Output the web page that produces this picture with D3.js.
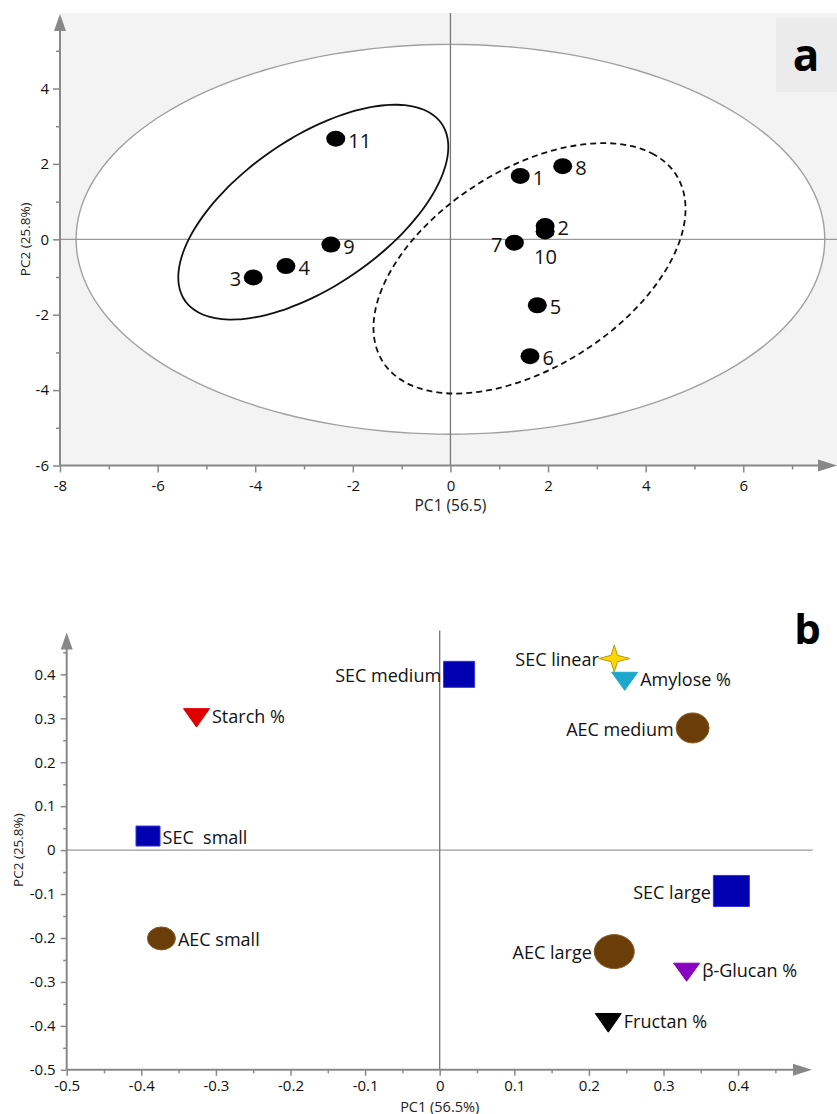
<!DOCTYPE html>
<html>
<head>
<meta charset="utf-8">
<script src="https://cdn.jsdelivr.net/npm/d3@7"></script>
<style>
  body { margin: 0; background: #fff; }
  text { font-family: "Open Sans", sans-serif; }
</style>
</head>
<body>
<script>
// ---- panel a : scores ----
const scoreIds = ["1", "2", "3", "4", "5", "6", "7", "8", "9", "10", "11"];
const scorePC1 = [1.43, 1.94, -4.04, -3.37, 1.78, 1.63, 1.31, 2.30, -2.45, 1.94, -2.35];
const scorePC2 = [1.68, 0.35, -1.01, -0.71, -1.75, -3.10, -0.09, 1.94, -0.14, 0.21, 2.67];
const pc1TicksA = [-8, -6, -4, -2, 0, 2, 4, 6];
const pc1MinorA = [-7, -5, -3, -1, 1, 3, 5, 7];
const pc2TicksA = [-6, -4, -2, 0, 2, 4];
const pc2MinorA = [-5, -3, -1, 1, 3, 5];
// group ellipses (centre, semi axes, rotation in degrees), PC units
const groupCentres = [[-2.81, 0.72], [1.62, -0.77]];
const groupRadii = [[3.56, 1.76], [3.96, 2.36]];
const groupAngles = [46.4, 47.3];
const hotellingRadii = [7.67, 5.17];

// ---- panel b : loadings ----
const loadNames = ["SEC medium", "SEC linear", "Amylose %", "Starch %", "AEC medium", "SEC  small",
                   "SEC large", "AEC small", "AEC large", "β-Glucan %", "Fructan %"];
const loadPC1 = [0.026, 0.234, 0.248, -0.326, 0.339, -0.391, 0.391, -0.373, 0.234, 0.331, 0.226];
const loadPC2 = [0.400, 0.436, 0.391, 0.308, 0.278, 0.032, -0.093, -0.201, -0.231, -0.271, -0.386];
const pc1TicksB = [-0.5, -0.4, -0.3, -0.2, -0.1, 0, 0.1, 0.2, 0.3, 0.4];
const pc1MinorB = [-0.45, -0.35, -0.25, -0.15, -0.05, 0.05, 0.15, 0.25, 0.35, 0.45];
const pc2TicksB = [-0.5, -0.4, -0.3, -0.2, -0.1, 0, 0.1, 0.2, 0.3, 0.4];
const pc2MinorB = [-0.45, -0.35, -0.25, -0.15, -0.05, 0.05, 0.15, 0.25, 0.35, 0.45];

// where the number sits next to each score dot
const scoreSide = {"3": "left", "7": "left", "10": "below"};

// marker look for each loading
const markerStyle = {
  "SEC medium": {shape: "square", w: 31, h: 26, fill: "#0000b0", stroke: "#3333dd", side: "left"},
  "SEC linear": {shape: "star", w: 31, h: 27, fill: "#ffd700", stroke: "#b89a00", side: "left"},
  "Amylose %":  {shape: "tri", w: 26, h: 18, fill: "#1ba8cc", stroke: "#1ba8cc", side: "right"},
  "Starch %":   {shape: "tri", w: 26, h: 18.4, fill: "#e00000", stroke: "#e00000", side: "right"},
  "AEC medium": {shape: "circle", w: 33, h: 30, fill: "#6b3d08", stroke: "#8a5a22", side: "left"},
  "SEC  small": {shape: "square", w: 24, h: 20, fill: "#0000b0", stroke: "#3333dd", side: "right"},
  "SEC large":  {shape: "square", w: 36, h: 31, fill: "#0000b0", stroke: "#3333dd", side: "left"},
  "AEC small":  {shape: "circle", w: 28, h: 23, fill: "#6b3d08", stroke: "#8a5a22", side: "right"},
  "AEC large":  {shape: "circle", w: 40, h: 34, fill: "#6b3d08", stroke: "#8a5a22", side: "left"},
  "β-Glucan %": {shape: "tri", w: 26, h: 18, fill: "#8800c0", stroke: "#8800c0", side: "right"},
  "Fructan %":  {shape: "tri", w: 26, h: 18.7, fill: "#000000", stroke: "#000000", side: "right"}
};

const W = 837, H = 1114;
const axisColor = "#888";
const svg = d3.select("body").append("svg")
  .attr("width", W).attr("height", H);

const fmt = d => String(+d.toFixed(2));

function ellipsePath(cx, cy, rx, ry, angleDeg, x, y) {
  const a = angleDeg * Math.PI / 180;
  const pts = d3.range(0, 360, 4).map(t => {
    const r = t * Math.PI / 180;
    const ux = rx * Math.cos(r), uy = ry * Math.sin(r);
    return [x(cx + ux * Math.cos(a) - uy * Math.sin(a)), y(cy + ux * Math.sin(a) + uy * Math.cos(a))];
  });
  return d3.line().curve(d3.curveCardinalClosed)(pts);
}

function drawAxes(g, x, y, o) {
  // minor ticks
  g.append("g").attr("transform", `translate(0,${y(o.yMin)})`)
    .call(d3.axisBottom(x).tickValues(o.xMinor).tickSize(o.minorLen).tickFormat(""))
    .call(s => s.select(".domain").remove());
  g.append("g").attr("transform", `translate(${x(o.xMin)},0)`)
    .call(d3.axisLeft(y).tickValues(o.yMinor).tickSize(o.minorLen).tickFormat(""))
    .call(s => s.select(".domain").remove());
  // major ticks
  const gx = g.append("g").attr("transform", `translate(0,${y(o.yMin)})`)
    .call(d3.axisBottom(x).tickValues(o.xTicks).tickSize(o.majorLen).tickPadding(o.xPad).tickFormat(fmt));
  const gy = g.append("g").attr("transform", `translate(${x(o.xMin)},0)`)
    .call(d3.axisLeft(y).tickValues(o.yTicks).tickSize(o.majorLen).tickPadding(o.yPad).tickFormat(fmt));
  [gx, gy].forEach(s => {
    s.attr("font-size", 15).attr("font-family", "'Open Sans', sans-serif");
    s.select(".domain").remove();
    s.selectAll("text").attr("fill", "#111");
  });
  g.selectAll(".tick line").attr("stroke", axisColor).attr("stroke-width", 1.5);

  // axis lines with arrow heads
  const x0 = x(o.xMin), y0 = y(o.yMin);
  g.append("line").attr("x1", x0).attr("x2", o.xEnd - 14).attr("y1", y0).attr("y2", y0)
    .attr("stroke", axisColor).attr("stroke-width", 2);
  g.append("line").attr("x1", x0).attr("x2", x0).attr("y1", y0).attr("y2", o.yEnd + 14)
    .attr("stroke", axisColor).attr("stroke-width", 2);
  g.append("path").attr("d", `M${o.xEnd},${y0} L${o.xEnd - 19},${y0 - 6} L${o.xEnd - 19},${y0 + 6} Z`)
    .attr("fill", axisColor);
  g.append("path").attr("d", `M${x0},${o.yEnd} L${x0 - 6},${o.yEnd + 17} L${x0 + 6},${o.yEnd + 17} Z`)
    .attr("fill", axisColor);
}

// ================= panel a =================
const xA = d3.scaleLinear().domain([-8, 7.9]).range([60, 836]);
const yA = d3.scaleLinear().domain([-6, 6]).range([465.5, 13.1]);
const gA = svg.append("g");

gA.append("rect").attr("x", xA(-8)).attr("y", yA(6))
  .attr("width", W - xA(-8)).attr("height", yA(-6) - yA(6)).attr("fill", "#f3f3f3");
gA.append("rect").attr("x", 776).attr("y", 18).attr("width", 61).attr("height", 74).attr("fill", "#ebebeb");

gA.append("path").attr("d", ellipsePath(0, 0, hotellingRadii[0], hotellingRadii[1], 0, xA, yA))
  .attr("fill", "#fff").attr("stroke", "#a0a0a0").attr("stroke-width", 1.4);

// zero lines
gA.append("line").attr("x1", xA(-8)).attr("x2", W).attr("y1", yA(0)).attr("y2", yA(0))
  .attr("stroke", "#999").attr("stroke-width", 1.3);
gA.append("line").attr("x1", xA(0)).attr("x2", xA(0)).attr("y1", yA(-6)).attr("y2", yA(6))
  .attr("stroke", "#777").attr("stroke-width", 1.3);

groupCentres.forEach((c, i) => {
  gA.append("path")
    .attr("d", ellipsePath(c[0], c[1], groupRadii[i][0], groupRadii[i][1], groupAngles[i], xA, yA))
    .attr("fill", "none").attr("stroke", "#111").attr("stroke-width", 1.8)
    .attr("stroke-dasharray", i === 1 ? "6,4" : null);
});

drawAxes(gA, xA, yA, {
  xMin: -8, yMin: -6, xTicks: pc1TicksA, xMinor: pc1MinorA, yTicks: pc2TicksA, yMinor: pc2MinorA,
  majorLen: 7, minorLen: 4, xPad: 8, yPad: 4, xEnd: 837, yEnd: 14
});

const scores = scoreIds.map((id, i) => ({id, x: scorePC1[i], y: scorePC2[i]}));
gA.selectAll("ellipse.dot").data(scores).enter().append("ellipse")
  .attr("class", "dot")
  .attr("cx", d => xA(d.x)).attr("cy", d => yA(d.y))
  .attr("rx", 9.5).attr("ry", 8).attr("fill", "#000");

gA.selectAll("text.lab").data(scores).enter().append("text")
  .attr("class", "lab")
  .attr("x", d => {
    const s = scoreSide[d.id];
    return xA(d.x) + (s === "left" ? -12 : s === "below" ? -11 : 12.5);
  })
  .attr("y", d => yA(d.y) + (scoreSide[d.id] === "below" ? 26 : 2))
  .attr("dy", "0.35em")
  .attr("text-anchor", d => scoreSide[d.id] === "left" ? "end" : "start")
  .attr("font-size", 20).attr("fill", "#111")
  .text(d => d.id);

gA.append("text").attr("x", 806).attr("y", 70.5).attr("text-anchor", "middle")
  .attr("font-size", 44).attr("font-weight", "bold").attr("fill", "#000").text("a");

gA.append("text").attr("x", xA(0)).attr("y", 511).attr("text-anchor", "middle")
  .attr("font-size", 15.5).attr("fill", "#222").text("PC1 (56.5)");
gA.append("text").attr("transform", `translate(25.5,${yA(0)}) rotate(-90)`).attr("dy", "0.35em")
  .attr("text-anchor", "middle").attr("font-size", 13.5).attr("fill", "#222").text("PC2 (25.8%)");

// ================= panel b =================
const xB = d3.scaleLinear().domain([-0.5, 0.5]).range([66.7, 812.7]);
const yB = d3.scaleLinear().domain([-0.5, 0.5]).range([1069.8, 630.4]);
const gB = svg.append("g");

gB.append("line").attr("x1", xB(-0.5)).attr("x2", xB(0.5)).attr("y1", yB(0)).attr("y2", yB(0))
  .attr("stroke", "#999").attr("stroke-width", 1.3);
gB.append("line").attr("x1", xB(0)).attr("x2", xB(0)).attr("y1", yB(-0.5)).attr("y2", yB(0.5))
  .attr("stroke", "#777").attr("stroke-width", 1.3);

drawAxes(gB, xB, yB, {
  xMin: -0.5, yMin: -0.5, xTicks: pc1TicksB, xMinor: pc1MinorB, yTicks: pc2TicksB, yMinor: pc2MinorB,
  majorLen: 6, minorLen: 3.5, xPad: 5, yPad: 5, xEnd: 812, yEnd: 632.5
});

const loads = loadNames.map((name, i) => ({name, x: loadPC1[i], y: loadPC2[i], st: markerStyle[name]}));

function markerPath(st) {
  const w = st.w / 2, h = st.h / 2;
  if (st.shape === "square") return `M${-w},${-h}H${w}V${h}H${-w}Z`;
  if (st.shape === "tri") return `M${-w},${-st.h / 3}L${w},${-st.h / 3}L0,${st.h * 2 / 3}Z`;
  if (st.shape === "star") {
    const i = 3.2;
    return `M0,${-h}L${i},${-i}L${w},0L${i},${i}L0,${h}L${-i},${i}L${-w},0L${-i},${-i}Z`;
  }
  return null;
}

const mk = gB.selectAll("g.mk").data(loads).enter().append("g")
  .attr("class", "mk")
  .attr("transform", d => `translate(${xB(d.x)},${yB(d.y)})`);

mk.filter(d => d.st.shape === "circle").append("ellipse")
  .attr("rx", d => d.st.w / 2).attr("ry", d => d.st.h / 2)
  .attr("fill", d => d.st.fill).attr("stroke", d => d.st.stroke).attr("stroke-width", 1);
mk.filter(d => d.st.shape !== "circle").append("path")
  .attr("d", d => markerPath(d.st))
  .attr("fill", d => d.st.fill).attr("stroke", d => d.st.stroke).attr("stroke-width", 1);

mk.append("text")
  .attr("x", d => d.st.side === "left" ? -d.st.w / 2 - (d.st.shape === "star" ? 0 : 2.5) : d.st.w / 2 + 2.5)
  .attr("y", 1.5).attr("dy", "0.35em")
  .attr("text-anchor", d => d.st.side === "left" ? "end" : "start")
  .attr("font-size", 18).attr("fill", "#111")
  .style("white-space", "pre")
  .text(d => d.name);

gB.append("text").attr("x", 807.5).attr("y", 644).attr("text-anchor", "middle")
  .attr("font-size", 42).attr("font-weight", "bold").attr("fill", "#000").text("b");

gB.append("text").attr("x", xB(0)).attr("y", 1111.5).attr("text-anchor", "middle")
  .attr("font-size", 14.5).attr("fill", "#222").text("PC1 (56.5%)");
gB.append("text").attr("transform", `translate(18.5,${yB(0)}) rotate(-90)`).attr("dy", "0.35em")
  .attr("text-anchor", "middle").attr("font-size", 13.5).attr("fill", "#222").text("PC2 (25.8%)");
</script>
</body>
</html>
